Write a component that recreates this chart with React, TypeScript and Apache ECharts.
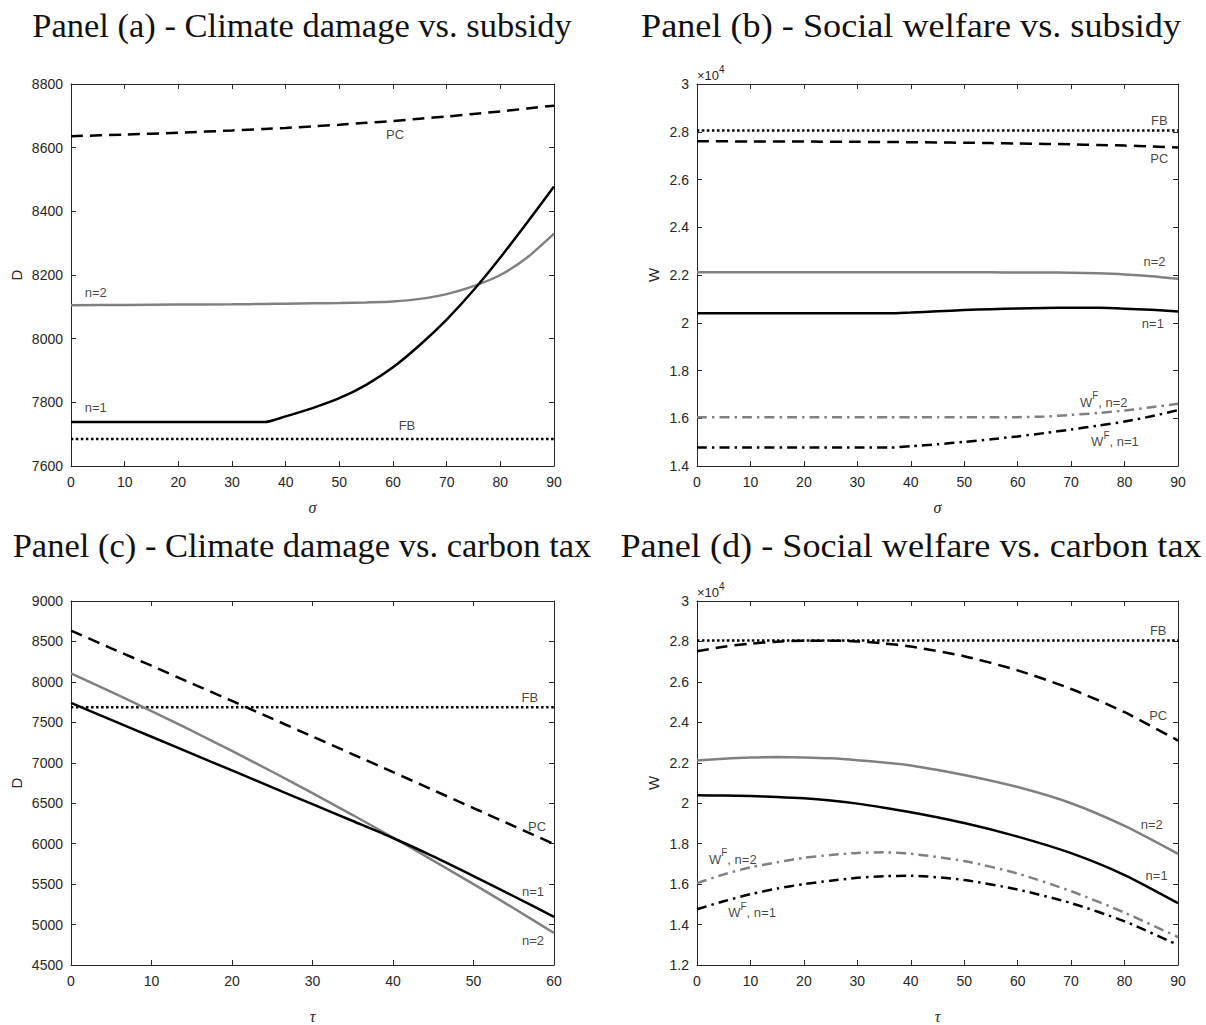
import React, { useEffect, useRef } from 'react';
import * as echarts from 'echarts';

// ---------- data ----------
const sigma = [0, 10, 20, 30, 36, 40, 45, 50, 55, 60, 65, 70, 75, 80, 85, 90];
const tauC = [0, 5, 10, 15, 20, 25, 30, 35, 40, 45, 50, 55, 60];
const tauD = [0, 5, 10, 15, 20, 25, 30, 35, 40, 50, 60, 70, 80, 90];

// Panel (a): climate damage vs subsidy
const aFB = [7685, 7685, 7685, 7685, 7685, 7685, 7685, 7685, 7685, 7685, 7685, 7685, 7685, 7685, 7685, 7685];
const aPC = [8636, 8641, 8647, 8654, 8659, 8662, 8667, 8672, 8678, 8684, 8691, 8698, 8706, 8714, 8723, 8732];
const aN1 = [7738, 7738, 7738, 7738, 7738, 7756, 7782, 7813, 7855, 7910, 7980, 8060, 8152, 8255, 8365, 8478];
const aN2 = [8105, 8106, 8107, 8108, 8109, 8110, 8111, 8112, 8114, 8117, 8125, 8140, 8165, 8200, 8255, 8330];

// Panel (b): social welfare vs subsidy
const bFB = [28050, 28050, 28050, 28050, 28050, 28050, 28050, 28050, 28050, 28050, 28050, 28050, 28050, 28050, 28050, 28050];
const bPC = [27600, 27595, 27588, 27578, 27570, 27563, 27552, 27540, 27525, 27510, 27492, 27472, 27448, 27420, 27385, 27340];
const bN2 = [22110, 22110, 22110, 22110, 22110, 22110, 22110, 22110, 22110, 22108, 22104, 22095, 22070, 22025, 21950, 21840];
const bN1 = [20395, 20395, 20395, 20395, 20395, 20430, 20480, 20530, 20570, 20600, 20620, 20630, 20625, 20590, 20540, 20470];
const bWF2 = [16040, 16040, 16040, 16040, 16040, 16040, 16040, 16040, 16040, 16045, 16070, 16140, 16220, 16320, 16460, 16610];
const bWF1 = [14770, 14770, 14770, 14770, 14770, 14830, 14910, 15010, 15120, 15240, 15380, 15530, 15690, 15860, 16080, 16340];

// Panel (c): climate damage vs carbon tax
const cFB = [7685, 7685, 7685, 7685, 7685, 7685, 7685, 7685, 7685, 7685, 7685, 7685, 7685];
const cPC = [8635, 8415, 8200, 7980, 7765, 7545, 7325, 7105, 6885, 6662, 6440, 6218, 5995];
const cN1 = [7740, 7531, 7322, 7113, 6905, 6696, 6488, 6280, 6070, 5843, 5600, 5350, 5095];
const cN2 = [8105, 7876, 7640, 7396, 7146, 6889, 6625, 6354, 6076, 5791, 5500, 5201, 4895];

// Panel (d): social welfare vs carbon tax
const dFB = [28050, 28050, 28050, 28050, 28050, 28050, 28050, 28050, 28050, 28050, 28050, 28050, 28050, 28050];
const dPC = [27510, 27740, 27890, 27990, 28035, 28040, 28000, 27900, 27750, 27270, 26570, 25650, 24500, 23100];
const dN2 = [22110, 22200, 22260, 22280, 22265, 22220, 22130, 22010, 21870, 21400, 20800, 20000, 18880, 17500];
const dN1 = [20390, 20380, 20360, 20310, 20240, 20130, 19980, 19780, 19550, 19020, 18350, 17530, 16450, 15060];
const dWF2 = [16050, 16480, 16830, 17080, 17300, 17440, 17540, 17570, 17500, 17140, 16520, 15650, 14590, 13380];
const dWF1 = [14760, 15150, 15500, 15780, 16000, 16170, 16310, 16390, 16410, 16200, 15730, 15060, 14160, 12990];

// curve annotations [text, x, y]
const labelsA: [string, number, number][] = [['PC', 60.4, 8642], ['n=2', 4.6, 8145], ['n=1', 4.6, 7783], ['FB', 62.6, 7726]];
const labelsB: [string, number, number][] = [['FB', 86.5, 28480], ['PC', 86.5, 26890], ['n=2', 85.6, 22560], ['n=1', 85.3, 19970], ['W^F, n=2', 76.1, 16780], ['W^F, n=1', 78.2, 15130]];
const labelsC: [string, number, number][] = [['FB', 57.0, 7810], ['PC', 57.9, 6217], ['n=1', 57.4, 5413], ['n=2', 57.4, 4798]];
const labelsD: [string, number, number][] = [['FB', 86.3, 28520], ['PC', 86.3, 24320], ['n=2', 85.1, 18950], ['n=1', 86.0, 16430], ['W^F, n=2', 6.7, 17350], ['W^F, n=1', 10.3, 14710]];

const titles = [
  'Panel (a) - Climate damage vs. subsidy',
  'Panel (b) - Social welfare vs. subsidy',
  'Panel (c) - Climate damage vs. carbon tax',
  'Panel (d) - Social welfare vs. carbon tax',
];

// ---------- styling ----------
const AX = '#262626';
const GRAY = '#808080';
const SANS = '"Liberation Sans", Arial, Helvetica, sans-serif';
const SERIF = '"Liberation Serif", "DejaVu Serif", serif';
const LW = 2.5;
const DASH = [12, 7];
const DOT = [2.5, 2.5];
const DASHDOT = [10, 5, 2.5, 5];

const gridBoxes = [
  { left: 71, top: 84, width: 483, height: 382 },
  { left: 697, top: 84, width: 481, height: 382 },
  { left: 71, top: 601, width: 483, height: 382 },
  { left: 697, top: 601, width: 481, height: 382 },
];

const plainFmt = (v: number) => String(v);
const wFmt = (v: number) => String(Math.round(v / 1000) / 10);

const axesSpec = [
  { xmin: 0, xmax: 90, xint: 10, xname: 'σ', xgap: 33, ymin: 7600, ymax: 8800, yint: 200, yname: 'D', fmt: plainFmt, gap: 47 },
  { xmin: 0, xmax: 90, xint: 10, xname: 'σ', xgap: 33, ymin: 14000, ymax: 30000, yint: 2000, yname: 'W', fmt: wFmt, gap: 36 },
  { xmin: 0, xmax: 60, xint: 10, xname: 'τ', xgap: 43, ymin: 4500, ymax: 9000, yint: 500, yname: 'D', fmt: plainFmt, gap: 47 },
  { xmin: 0, xmax: 90, xint: 10, xname: 'τ', xgap: 43, ymin: 12000, ymax: 30000, yint: 2000, yname: 'W', fmt: wFmt, gap: 36 },
];

function buildOption() {
  const xAxis: any[] = [];
  const yAxis: any[] = [];
  axesSpec.forEach((s, g) => {
    const common = {
      gridIndex: g,
      type: 'value',
      axisLine: { show: true, onZero: false, lineStyle: { color: AX, width: 1 } },
      axisTick: { show: true, inside: true, length: 5, lineStyle: { color: AX, width: 1 } },
      splitLine: { show: false },
    };
    xAxis.push({
      ...common, min: s.xmin, max: s.xmax, interval: s.xint, position: 'bottom',
      axisLabel: { color: AX, fontSize: 14, fontFamily: SANS, margin: 9, formatter: plainFmt },
      name: s.xname, nameLocation: 'middle', nameGap: s.xgap,
      nameTextStyle: { color: AX, fontSize: 16, fontFamily: SERIF, fontStyle: 'italic' },
    });
    xAxis.push({
      ...common, min: s.xmin, max: s.xmax, interval: s.xint, position: 'top',
      axisLabel: { show: false },
    });
    yAxis.push({
      ...common, min: s.ymin, max: s.ymax, interval: s.yint, position: 'left',
      axisLabel: { color: AX, fontSize: 14, fontFamily: SANS, margin: 8, formatter: s.fmt },
      name: s.yname, nameLocation: 'middle', nameGap: s.gap, nameRotate: 90,
      nameTextStyle: { color: AX, fontSize: 15, fontFamily: SANS },
    });
    yAxis.push({
      ...common, min: s.ymin, max: s.ymax, interval: s.yint, position: 'right',
      axisLabel: { show: false },
    });
  });

  const line = (g: number, xs: number[], ys: number[], color: string, type: any) => ({
    type: 'line',
    xAxisIndex: 2 * g,
    yAxisIndex: 2 * g,
    data: xs.map((x, i) => [x, ys[i]]),
    showSymbol: false,
    symbol: 'none',
    smooth: 0.25,
    lineStyle: { color, width: LW, type, cap: 'butt' },
    silent: true,
  });

  const labelSeries = (g: number, items: [string, number, number][]) => ({
    type: 'scatter',
    xAxisIndex: 2 * g,
    yAxisIndex: 2 * g,
    symbolSize: 1,
    itemStyle: { color: 'rgba(0,0,0,0)' },
    silent: true,
    data: items.map(([t, x, y]) => {
      const isW = t.startsWith('W^F');
      return {
        name: t,
        value: [x, y],
        label: isW
          ? {
              formatter: '{w|W}{s|F}{w|' + t.slice(3) + '}',
              rich: {
                w: { fontSize: 13, fontFamily: SANS, color: '#111', lineHeight: 18, verticalAlign: 'bottom' },
                s: { fontSize: 10, fontFamily: SANS, color: '#111', lineHeight: 12, verticalAlign: 'top' },
              },
            }
          : { formatter: t },
      };
    }),
    label: {
      show: true,
      position: 'inside',
      color: '#111',
      fontSize: 13,
      fontFamily: SANS,
    },
  });

  const series: any[] = [
    line(0, sigma, aFB, '#000', DOT),
    line(0, sigma, aPC, '#000', DASH),
    line(0, sigma, aN2, GRAY, 'solid'),
    line(0, sigma, aN1, '#000', 'solid'),
    labelSeries(0, labelsA),

    line(1, sigma, bFB, '#000', DOT),
    line(1, sigma, bPC, '#000', DASH),
    line(1, sigma, bN2, GRAY, 'solid'),
    line(1, sigma, bN1, '#000', 'solid'),
    line(1, sigma, bWF2, GRAY, DASHDOT),
    line(1, sigma, bWF1, '#000', DASHDOT),
    labelSeries(1, labelsB),

    line(2, tauC, cFB, '#000', DOT),
    line(2, tauC, cPC, '#000', DASH),
    line(2, tauC, cN2, GRAY, 'solid'),
    line(2, tauC, cN1, '#000', 'solid'),
    labelSeries(2, labelsC),

    line(3, tauD, dFB, '#000', DOT),
    line(3, tauD, dPC, '#000', DASH),
    line(3, tauD, dN2, GRAY, 'solid'),
    line(3, tauD, dN1, '#000', 'solid'),
    line(3, tauD, dWF2, GRAY, DASHDOT),
    line(3, tauD, dWF1, '#000', DASHDOT),
    labelSeries(3, labelsD),
  ];

  const titlePos = [[302, 25, 1], [911, 25, 1.05], [302, 545, 1], [911, 545, 1.05]];
  const graphic: any[] = titles.map((t, i) => ({
    type: 'text',
    x: titlePos[i][0],
    y: titlePos[i][1],
    scaleX: titlePos[i][2],
    style: { text: t, fontSize: 34.5, fontFamily: SERIF, fill: '#111', align: 'center', verticalAlign: 'middle' },
  }));
  [84, 601].forEach((top) => {
    graphic.push({
      type: 'text',
      x: 697,
      y: top - 2,
      style: {
        text: '{a|×10}{b|4}',
        verticalAlign: 'bottom',
        align: 'left',
        rich: {
          a: { fontSize: 13, fontFamily: SANS, fill: AX, lineHeight: 18, verticalAlign: 'bottom' },
          b: { fontSize: 10, fontFamily: SANS, fill: AX, lineHeight: 11, verticalAlign: 'top' },
        },
      },
    });
  });

  return {
    animation: false,
    backgroundColor: '#fff',
    grid: gridBoxes.map((b) => ({ ...b, containLabel: false })),
    xAxis,
    yAxis,
    series,
    graphic,
  };
}

export default function App() {
  const ref = useRef<HTMLDivElement>(null);
  useEffect(() => {
    const chart = echarts.init(ref.current!, null, { renderer: 'svg' });
    chart.setOption(buildOption() as any);
    return () => chart.dispose();
  }, []);
  return (
    <div
      ref={ref}
      style={{ position: 'absolute', left: 0, top: 0, width: 1206, height: 1025, background: '#fff' }}
    />
  );
}
